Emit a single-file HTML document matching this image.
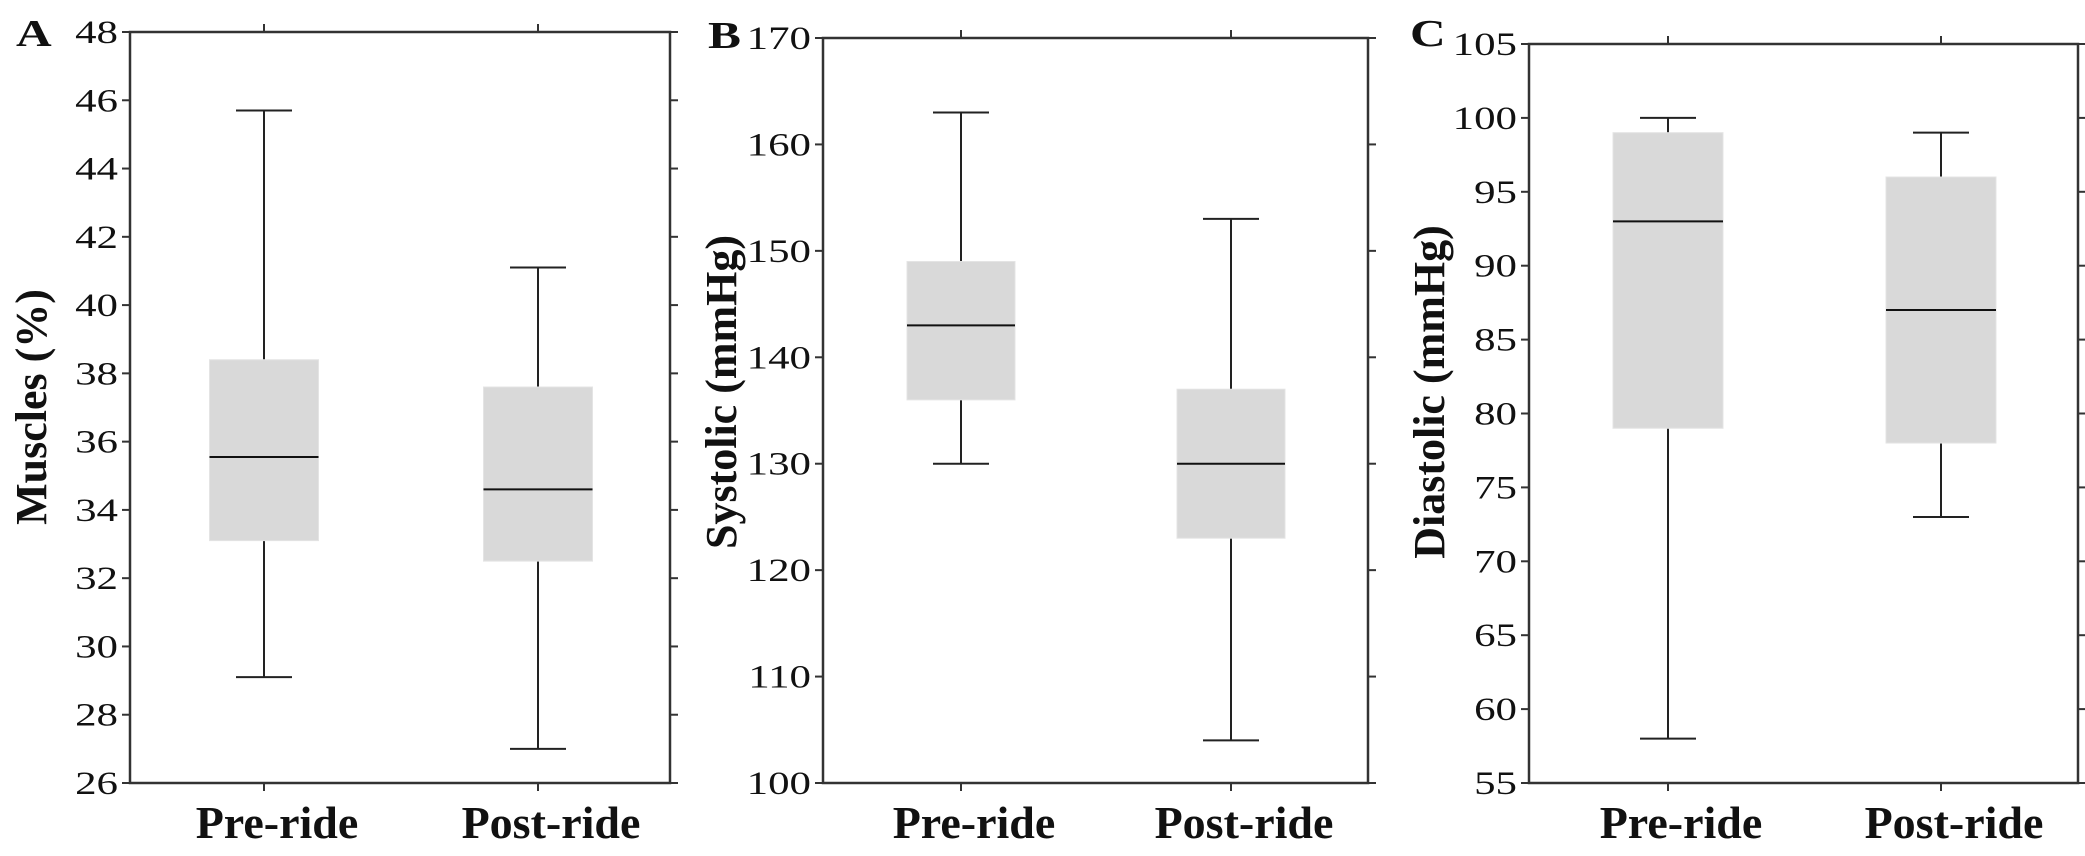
<!DOCTYPE html>
<html><head><meta charset="utf-8"><style>
html,body{margin:0;padding:0;background:#fff;}
svg{display:block;font-family:"Liberation Serif",serif;}
</style></head><body>
<svg id="chart" width="2085" height="856" viewBox="0 0 2085 856" xmlns="http://www.w3.org/2000/svg"></svg>
<script>
const categories = ["Pre-ride", "Post-ride"];
// [min, q1, median, q3, max]
const musclesValues = [[29.1, 33.1, 35.55, 38.4, 45.7], [27, 32.5, 34.6, 37.6, 41.1]];
const systolicValues = [[130, 136, 143, 149, 163], [104, 123, 130, 137, 153]];
const diastolicValues = [[58, 79, 93, 99, 100], [73, 78, 87, 96, 99]];
const musclesTicks = [26, 28, 30, 32, 34, 36, 38, 40, 42, 44, 46, 48];
const systolicTicks = [100, 110, 120, 130, 140, 150, 160, 170];
const diastolicTicks = [55, 60, 65, 70, 75, 80, 85, 90, 95, 100, 105];

const panels = [
  {id:"a", letter:"A", title:"Muscles (%)", values:musclesValues, ticks:musclesTicks,
   L:130, R:670, T:32, B:783, cx:[264, 538], bw:109, titleX:36, titleY:407, letterX:16, letterY:46},
  {id:"b", letter:"B", title:"Systolic (mmHg)", values:systolicValues, ticks:systolicTicks,
   L:823, R:1368, T:38, B:783, cx:[961, 1231], bw:108, titleX:726, titleY:392, letterX:708, letterY:48},
  {id:"c", letter:"C", title:"Diastolic (mmHg)", values:diastolicValues, ticks:diastolicTicks,
   L:1529, R:2078, T:44, B:783, cx:[1668, 1941], bw:110, titleX:1434, titleY:392, letterX:1410, letterY:46}
];

const NS = "http://www.w3.org/2000/svg";
const svg = document.getElementById("chart");
function mk(tag, attrs, parent){
  const e = document.createElementNS(NS, tag);
  for (const k in attrs) e.setAttribute(k, attrs[k]);
  (parent||svg).appendChild(e);
  return e;
}

panels.forEach(p => {
  const g = mk("g", {});
  
  
  const lo = p.ticks[0], hi = p.ticks[p.ticks.length-1];
  const y = v => p.B - (v - lo) / (hi - lo) * (p.B - p.T);

  p.values.forEach((s, i) => {
    const cx = p.cx[i], hw = p.bw/2, cap = 28;
    const bg = mk("g", {}, g);
    
    
    mk("line", {x1:cx, x2:cx, y1:y(s[0]), y2:y(s[1]), stroke:"#222", "stroke-width":2}, bg);
    mk("line", {x1:cx, x2:cx, y1:y(s[3]), y2:y(s[4]), stroke:"#222", "stroke-width":2}, bg);
    mk("line", {x1:cx-cap, x2:cx+cap, y1:y(s[0]), y2:y(s[0]), stroke:"#222", "stroke-width":2}, bg);
    mk("line", {x1:cx-cap, x2:cx+cap, y1:y(s[4]), y2:y(s[4]), stroke:"#222", "stroke-width":2}, bg);
    mk("rect", {x:cx-hw, y:y(s[3]), width:p.bw, height:y(s[1])-y(s[3]), fill:"#d9d9d9", stroke:"#e4e4e4", "stroke-width":1}, bg);
    mk("line", {x1:cx-hw, x2:cx+hw, y1:y(s[2]), y2:y(s[2]), stroke:"#111", "stroke-width":2}, bg);
  });

  const fr = mk("rect", {x:p.L, y:p.T, width:p.R-p.L, height:p.B-p.T, fill:"none", stroke:"#333", "stroke-width":2.5}, g);
  
  

  p.ticks.forEach(t => {
    const yy = y(t);
    mk("line", {x1:p.L-8, x2:p.L, y1:yy, y2:yy, stroke:"#333", "stroke-width":2}, g);
    mk("line", {x1:p.R, x2:p.R+8, y1:yy, y2:yy, stroke:"#333", "stroke-width":2}, g);
    const tg = mk("g", {transform:"translate("+(p.L-12)+","+(yy+11)+") scale(1.3,1)"}, g);
    const tx = mk("text", {x:0, y:0, "text-anchor":"end", "font-size":33, fill:"#111"}, tg);
    tx.textContent = t;
    
    
  });
  categories.forEach((c, i) => {
    const cx = p.cx[i];
    mk("line", {x1:cx, x2:cx, y1:p.B, y2:p.B+8, stroke:"#333", "stroke-width":2}, g);
    mk("line", {x1:cx, x2:cx, y1:p.T-8, y2:p.T, stroke:"#333", "stroke-width":2}, g);
    const tx = mk("text", {x:cx+13, y:838, "text-anchor":"middle", "font-size":46, "font-weight":"bold", fill:"#111"}, g);
    tx.textContent = c;
    
    
  });
  const yt = mk("text", {x:p.titleX, y:p.titleY, "text-anchor":"middle", "font-size":44, "font-weight":"bold", fill:"#111",
    transform:"rotate(-90 "+p.titleX+" "+p.titleY+")", "dominant-baseline":"middle"}, g);
  yt.textContent = p.title;
  
  
  const lg = mk("g", {transform:"translate("+p.letterX+","+p.letterY+") scale(1.3,1)"}, g);
  const lt = mk("text", {x:0, y:0, "font-size":38, "font-weight":"bold", fill:"#111"}, lg);
  lt.textContent = p.letter;
  
  
});
</script>
</body></html>
